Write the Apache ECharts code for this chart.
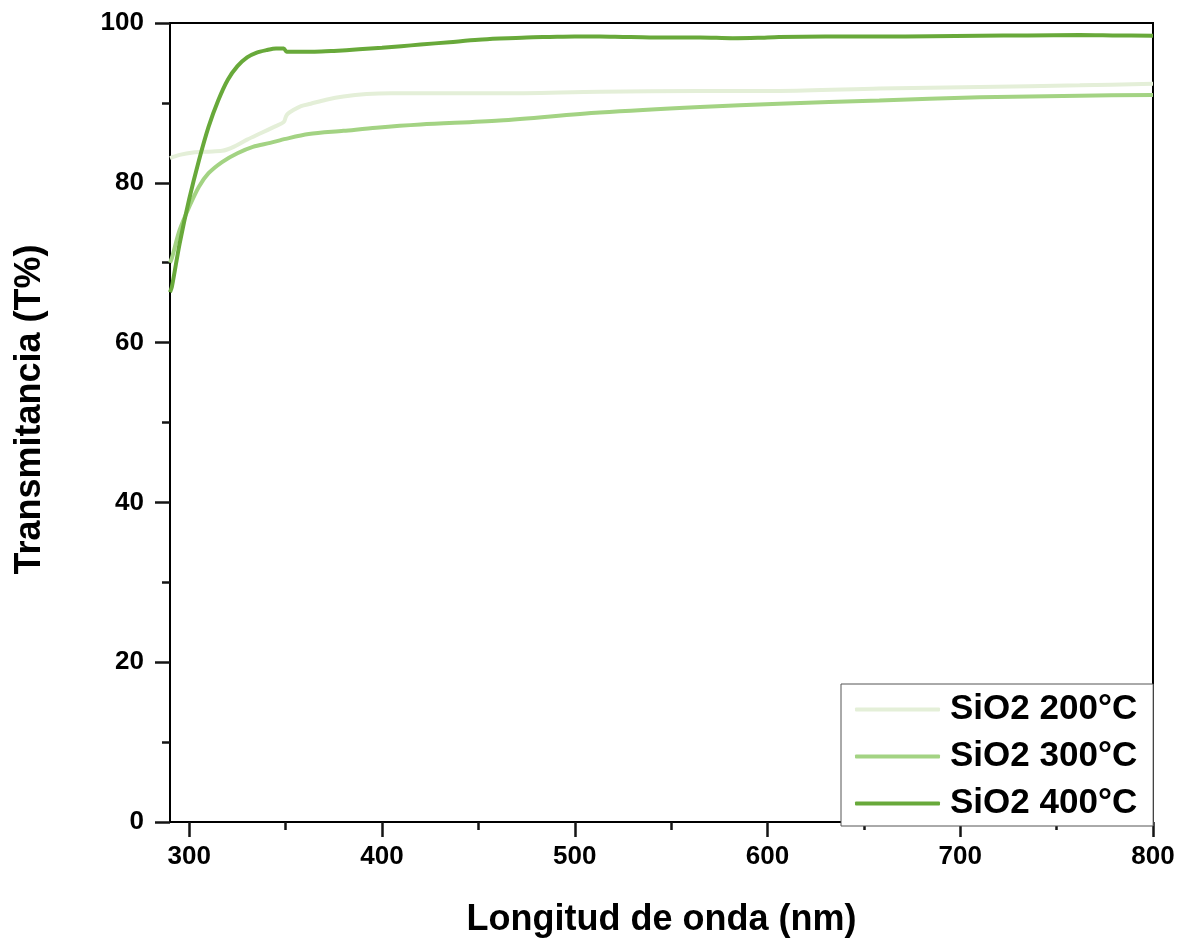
<!DOCTYPE html>
<html>
<head>
<meta charset="utf-8">
<title>Transmitancia SiO2</title>
<script src="https://cdn.jsdelivr.net/npm/echarts@6/dist/echarts.min.js"></script>
<style>
  html, body { margin: 0; padding: 0; background: #ffffff; }
  #chart { width: 1182px; height: 938px; }
</style>
</head>
<body>
<div id="chart"></div>
<script>
// Transmittance spectra, [wavelength nm, T %]
const seriesNames = ['SiO2 200°C', 'SiO2 300°C', 'SiO2 400°C'];

const t200 = [
  [290, 83.1], [295, 83.5], [302, 83.8], [310, 83.9], [317, 84.0], [320, 84.2],
  [323, 84.5], [330, 85.4], [337, 86.2], [344, 87.0], [349, 87.6], [350, 88.2],
  [351, 88.6], [354, 89.1], [358, 89.6], [363, 89.9], [371, 90.4], [380, 90.8],
  [392, 91.1], [405, 91.2], [420, 91.2], [461, 91.2], [513, 91.4], [565, 91.5],
  [606, 91.5], [658, 91.8], [710, 92.0], [762, 92.2], [800, 92.4]
];

const t300 = [
  [290, 70.0], [291, 70.6], [295, 74.1], [300, 77.0], [305, 79.5], [310, 81.2],
  [317, 82.6], [325, 83.7], [333, 84.5], [342, 85.0], [350, 85.5], [362, 86.1],
  [380, 86.5], [397, 86.9], [420, 87.3], [461, 87.8], [513, 88.8], [565, 89.5],
  [606, 89.9], [658, 90.3], [710, 90.7], [762, 90.9], [800, 91.0]
];

const t400 = [
  [290, 66.3], [291, 67.0], [295, 72.4], [300, 78.0], [305, 82.8], [310, 87.0],
  [315, 90.3], [320, 92.9], [325, 94.6], [330, 95.7], [335, 96.3], [340, 96.6],
  [345, 96.8], [349, 96.8], [350.5, 96.4], [355, 96.4], [365, 96.4], [375, 96.5],
  [388, 96.7], [400, 96.9], [410, 97.1], [420, 97.3], [435, 97.6], [450, 97.9],
  [461, 98.05], [475, 98.2], [487, 98.25], [500, 98.3], [513, 98.3], [525, 98.25],
  [539, 98.2], [565, 98.2], [582, 98.1], [595, 98.15], [606, 98.25], [630, 98.3],
  [658, 98.3], [685, 98.35], [710, 98.4], [735, 98.45], [762, 98.5], [780, 98.45],
  [800, 98.4]
];

const xMajorTicks = [300, 400, 500, 600, 700, 800];
const xMinorTicks = [350, 450, 550, 650, 750];
const yMajorTicks = [0, 20, 40, 60, 80, 100];
const yMinorTicks = [10, 30, 50, 70, 90];

const colors = ['#e4efd8', '#a3d383', '#68a93a'];
const FONT = 'Arial, "Liberation Sans", sans-serif';
const BLACK = '#000';
const TICK = '#141414';

const chart = echarts.init(document.getElementById('chart'), null, { renderer: 'canvas' });

const lineSeries = [t200, t300, t400].map((data, i) => ({
  name: seriesNames[i],
  type: 'line',
  xAxisIndex: 0,
  yAxisIndex: 0,
  data: data,
  symbol: 'none',
  smooth: 0.3,
  lineStyle: { color: colors[i], width: 4 },
  itemStyle: { color: colors[i] },
  z: 2 + i
}));

// tick-only helper axis (no line, no labels)
function tickAxis(min, max, values, len, extra) {
  return Object.assign({
    type: 'value',
    min: min,
    max: max,
    axisLine: { show: false },
    axisTick: { show: true, customValues: values, length: len, lineStyle: { color: TICK, width: 2.5 } },
    axisLabel: { show: false },
    splitLine: { show: false }
  }, extra);
}

chart.setOption({
  animation: false,
  backgroundColor: '#ffffff',
  grid: {
    left: 170, right: 29, top: 23, bottom: 116,
    outerBoundsMode: 'none',
    containLabel: false,
    show: true, borderColor: BLACK, borderWidth: 2, backgroundColor: 'transparent'
  },
  legend: {
    data: seriesNames,
    orient: 'vertical',
    left: 841,
    top: 684,
    icon: 'roundRect',
    itemWidth: 85,
    itemHeight: 4,
    itemGap: 12,
    padding: [8, 16, 5, 14],
    backgroundColor: '#ffffff',
    borderColor: '#555',
    borderWidth: 1,
    textStyle: {
      fontFamily: FONT, fontSize: 35, fontWeight: 'bold', color: BLACK,
      lineHeight: 34, padding: [0, 0, 0, 5]
    }
  },
  xAxis: [
    {
      type: 'value',
      min: 290,
      max: 800,
      name: 'Longitud de onda (nm)',
      nameLocation: 'middle',
      nameGap: 80,
      nameMoveOverlap: false,
      nameTextStyle: { fontFamily: FONT, fontSize: 36, fontWeight: 'bold', color: BLACK },
      axisLine: { show: true, onZero: false, lineStyle: { color: BLACK, width: 2 } },
      axisTick: { show: false },
      axisLabel: {
        customValues: xMajorTicks, margin: 22,
        fontFamily: FONT, fontSize: 26, fontWeight: 'bold', color: BLACK
      },
      splitLine: { show: false }
    },
    tickAxis(290, 800, xMinorTicks, 8, { position: 'bottom' }),
    tickAxis(290, 800, xMajorTicks, 15, { position: 'bottom' })
  ],
  yAxis: [
    {
      type: 'value',
      min: 0,
      max: 100,
      interval: 20,
      name: 'Transmitancia (T%)',
      nameLocation: 'middle',
      nameGap: 122,
      nameMoveOverlap: false,
      nameTextStyle: {
        fontFamily: FONT, fontSize: 36, fontWeight: 'bold', color: BLACK,
        padding: [0, 0, 0, 26]
      },
      axisLine: { show: true, onZero: false, lineStyle: { color: BLACK, width: 2 } },
      axisTick: { show: false },
      axisLabel: { margin: 26, fontFamily: FONT, fontSize: 26, fontWeight: 'bold', color: BLACK },
      splitLine: { show: false }
    },
    tickAxis(0, 100, yMinorTicks, 8, { position: 'left' }),
    tickAxis(0, 100, yMajorTicks, 15, { position: 'left' })
  ],
  series: lineSeries
});
</script>
</body>
</html>
